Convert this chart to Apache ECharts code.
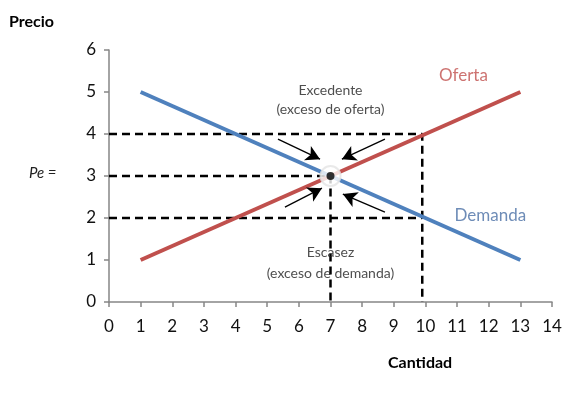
<!DOCTYPE html>
<html><head><meta charset="utf-8">
<script src="https://cdn.jsdelivr.net/npm/echarts@6/dist/echarts.min.js"></script>
<style>html,body{margin:0;padding:0;background:#fff}#c{width:583px;height:394px}</style>
</head><body><div id="c"></div>
<script>
const xTicks = [0,1,2,3,4,5,6,7,8,9,10,11,12,13,14];
const yTicks = [0,1,2,3,4,5,6];
const oferta = [[1,1],[13,5]];
const demanda = [[1,5],[13,1]];
const equilibrio = [7,3];
const guia4 = [[0,4],[9.9,4],[9.9,0]];
const guia3 = [[0,3],[7,3],[7,0]];
const guia2 = [[0,2],[9.9,2]];
const flechas = [
  [[5.34,3.88],[6.67,3.40]],
  [[8.72,3.88],[7.36,3.40]],
  [[5.56,2.26],[6.73,2.71]],
  [[8.72,2.14],[7.39,2.57]]
];
const FONT = 'Lato, "Open Sans", sans-serif';
const chart = echarts.init(document.getElementById('c'), null, {renderer:'canvas'});
const dashStyle = {color:'#000', width:2.5, type:[8,5]};
chart.setOption({
  animation:false,
  grid:{left:109, right:31, top:50, bottom:92},
  xAxis:{type:'value', min:0, max:14, interval:1,
    axisLine:{show:true, lineStyle:{color:'#868686', width:1.5}},
    axisTick:{show:true, length:5, lineStyle:{color:'#868686', width:1.5}},
    splitLine:{show:false},
    axisLabel:{fontSize:17, color:'#111', fontFamily:FONT, margin:16,
      formatter:v=>xTicks.includes(v)?String(v):''}},
  yAxis:{type:'value', min:0, max:6, interval:1,
    axisLine:{show:true, lineStyle:{color:'#868686', width:1.5}},
    axisTick:{show:true, length:5, lineStyle:{color:'#868686', width:1.5}},
    splitLine:{show:false},
    axisLabel:{fontSize:17, color:'#111', fontFamily:FONT, margin:13,
      formatter:v=>yTicks.includes(v)?String(v):''}},
  graphic:[
    {type:'text', left:9, top:14, style:{text:'Precio', font:'bold 16px '+FONT, fill:'#000'}},
    {type:'text', left:388, top:355, style:{text:'Cantidad', font:'bold 16px '+FONT, fill:'#000'}},
    {type:'text', left:29, top:166, style:{text:'Pe =', font:'italic 15px '+FONT, fill:'#222'}}
  ],
  series:[
    {type:'line', data:guia4, symbol:'none', lineStyle:dashStyle, z:2, silent:true},
    {type:'line', data:guia3, symbol:'none', lineStyle:dashStyle, z:2, silent:true},
    {type:'line', data:guia2, symbol:'none', lineStyle:dashStyle, z:2, silent:true},
    {type:'line', data:oferta, symbol:'none', lineStyle:{color:'#C0504D', width:4}, z:3},
    {type:'line', data:demanda, symbol:'none', lineStyle:{color:'#4F81BD', width:4}, z:3},
    {type:'line', data:[], z:5,
      markLine:{silent:true, symbol:['none','arrow'], symbolSize:[12,14], label:{show:false},
        lineStyle:{color:'#000', width:1.3, type:'solid'},
        data:flechas.map(f=>[{coord:f[0]},{coord:f[1]}])}},
    {type:'scatter', data:[equilibrio], symbolSize:20, z:6,
      itemStyle:{color:'#fff', borderColor:'#e4e4e4', borderWidth:2}},
    {type:'scatter', data:[equilibrio], symbolSize:8, z:7, itemStyle:{color:'#000'}},
    {type:'scatter', data:[[7,4.81]], symbolSize:0, z:7,
      label:{show:true, formatter:'Excedente\n(exceso de oferta)', position:'inside',
        fontSize:14, lineHeight:19, color:'#222', fontFamily:FONT}},
    {type:'scatter', data:[[7,0.93]], symbolSize:0, z:7,
      label:{show:true, formatter:'Escasez\n(exceso de demanda)', position:'inside',
        fontSize:14, lineHeight:21, color:'#222', fontFamily:FONT}},
    {type:'scatter', data:[[11.2,5.4]], symbolSize:0, z:7,
      label:{show:true, formatter:'Oferta', position:'inside', fontSize:17, color:'#C0504D', fontFamily:FONT}},
    {type:'scatter', data:[[12.05,2.07]], symbolSize:0, z:7,
      label:{show:true, formatter:'Demanda', position:'inside', fontSize:17, color:'#4A6FA5', fontFamily:FONT}}
  ]
});
</script></body></html>
